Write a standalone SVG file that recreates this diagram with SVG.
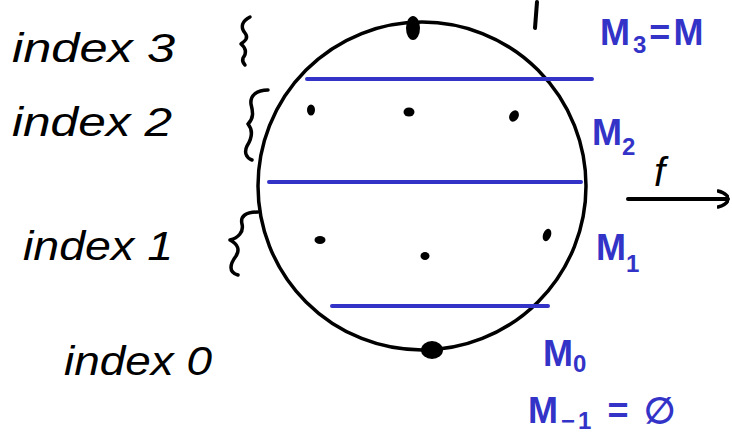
<svg xmlns="http://www.w3.org/2000/svg" width="732" height="442" viewBox="0 0 732 442">
<style>
.lbl{font-family:"Liberation Sans",Arial,sans-serif;font-style:italic;fill:#000;font-size:40px}
.blue{font-family:"Liberation Sans",Arial,sans-serif;font-weight:bold;fill:#3333c8;font-size:36px}
.sub{font-size:24px}
.brace{fill:none;stroke:#000;stroke-width:3.5;stroke-linecap:round;stroke-linejoin:round}
.level{stroke:#3333c8;stroke-width:4;stroke-linecap:round}
.dot{fill:#000}
</style>
<defs>
<marker id="open" viewBox="0 0 12 20" refX="11" refY="10" markerWidth="12" markerHeight="20" markerUnits="userSpaceOnUse" orient="auto">
<path d="M1,2 C9,4 12,8 11,11 C10,15 5,17 1,18" fill="none" stroke="#000" stroke-width="3.5" stroke-linecap="round"/>
</marker>
</defs>
<rect width="732" height="442" fill="#fff"/>
<g id="top-fragments" fill="none" stroke="#000" stroke-width="4" stroke-linecap="round">
<path d="M537,2 L535,28"/>
</g>
<g id="manifold">
<circle cx="422" cy="186" r="164" fill="none" stroke="#000" stroke-width="3.5"/>
<ellipse cx="413" cy="28" rx="7" ry="12" class="dot"/>
<ellipse cx="432" cy="350" rx="11" ry="9" class="dot"/>
<ellipse cx="311" cy="110" rx="4" ry="5.5" class="dot"/>
<ellipse cx="409" cy="112" rx="5.5" ry="4.5" class="dot"/>
<ellipse cx="514" cy="116" rx="4.5" ry="6" class="dot" transform="rotate(30 514 116)"/>
<ellipse cx="320" cy="240" rx="5.5" ry="4" class="dot"/>
<ellipse cx="425" cy="256" rx="4.5" ry="4" class="dot"/>
<ellipse cx="547" cy="235" rx="4" ry="6.5" class="dot" transform="rotate(20 547 235)"/>
</g>
<g id="levels">
<line x1="307" y1="79" x2="592" y2="79" class="level"/>
<line x1="269" y1="182" x2="581" y2="182" class="level"/>
<line x1="332" y1="306" x2="548" y2="306" class="level"/>
</g>
<g id="label-index3">
<text x="12" y="62" class="lbl" textLength="163" lengthAdjust="spacingAndGlyphs">index 3</text>
<path class="brace" d="M250,17 C242,21 240,27 245,33 C249,38 245,41 241,44 C246,48 247,53 243,58 C242,61 243,63 245,65"/>
</g>
<g id="label-index2">
<text x="12" y="136" class="lbl" textLength="160" lengthAdjust="spacingAndGlyphs">index 2</text>
<path class="brace" d="M268,90 C256,90 250,96 251,104 C253,112 254,118 248,124 C253,130 252,138 247,146 C244,152 246,158 252,160"/>
</g>
<g id="label-index1">
<text x="23" y="260" class="lbl" textLength="150" lengthAdjust="spacingAndGlyphs">index 1</text>
<path class="brace" d="M258,212 C246,212 240,216 242,224 C244,232 238,238 230,240 C238,244 240,250 236,256 C230,264 228,272 238,275"/>
</g>
<g id="label-index0">
<text x="64" y="375" class="lbl" textLength="148" lengthAdjust="spacingAndGlyphs">index 0</text>
</g>
<g id="label-M3">
<text x="600" y="45" class="blue" letter-spacing="3">M<tspan class="sub" dy="8">3</tspan><tspan dy="-8">=M</tspan></text>
</g>
<g id="label-M2">
<text x="592" y="145" class="blue">M<tspan class="sub" dy="10">2</tspan></text>
</g>
<g id="label-M1">
<text x="596" y="260" class="blue">M<tspan class="sub" dy="12">1</tspan></text>
</g>
<g id="label-M0">
<text x="543" y="366" class="blue">M<tspan class="sub" dy="6">0</tspan></text>
</g>
<g id="label-Mminus1">
<text x="528" y="423" class="blue" letter-spacing="3">M<tspan class="sub" dy="6">−1</tspan><tspan dy="-6"> = ∅</tspan></text>
</g>
<g id="connectors">
<line x1="628" y1="199" x2="728" y2="199" stroke="#000" stroke-width="4" stroke-linecap="round" marker-end="url(#open)"/>
<text x="654" y="186" class="lbl" font-size="42">f</text>
</g>
</svg>
